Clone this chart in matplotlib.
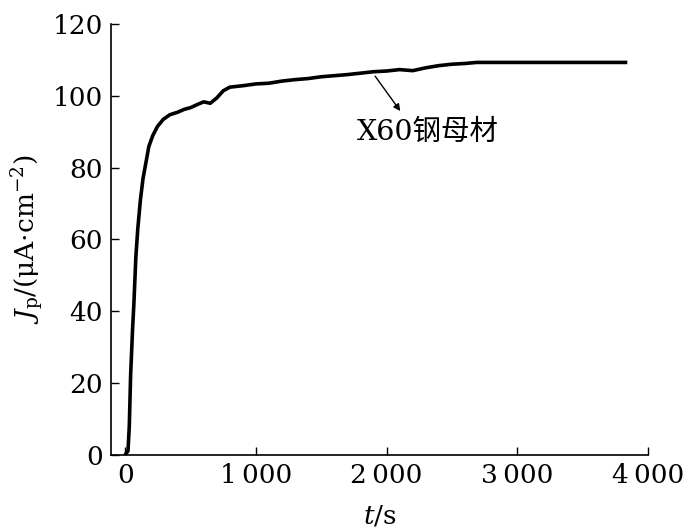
import matplotlib.pyplot as plt

plt.rcParams['font.family'] = ['DejaVu Serif', 'Noto Sans CJK SC']
plt.rcParams['mathtext.fontset'] = 'dejavuserif'

# time (s) and permeation current density (uA/cm^2)
t = [0, 20, 30, 40, 55, 65, 80, 95, 115, 135, 155, 180, 210, 245, 290, 340,
     400, 450, 500, 560, 600, 650, 700, 750, 800, 900, 1000, 1100, 1200, 1300,
     1400, 1500, 1600, 1700, 1800, 1900, 2000, 2100, 2200, 2300, 2400, 2500,
     2600, 2690, 3000, 3400, 3830]
jp = [0, 1, 8, 22, 35, 42, 55, 63, 71, 77, 81, 86, 89, 91.5, 93.5, 94.8,
      95.5, 96.3, 96.8, 97.8, 98.4, 98.0, 99.5, 101.5, 102.5, 102.9, 103.4, 103.6,
      104.2, 104.6, 104.9, 105.4, 105.7, 106.0, 106.4, 106.8, 107.0, 107.4, 107.1,
      107.9, 108.5, 108.9, 109.1, 109.4, 109.4, 109.4, 109.4]

xticks = [0, 1000, 2000, 3000, 4000]
xlabels = ['0', '1\u2009000', '2\u2009000', '3\u2009000', '4\u2009000']
yticks = [0, 20, 40, 60, 80, 100, 120]

fig = plt.figure(figsize=(6.92, 5.31), dpi=100)
ax = fig.add_axes([0.161, 0.144, 0.775, 0.810])
ax.plot(t, jp, color='black', lw=2.6)

ax.set_xlim(-107, 4000)
ax.set_ylim(0, 120)
ax.set_xticks(xticks)
ax.set_xticklabels(xlabels)
ax.set_yticks(yticks)
ax.tick_params(direction='in', length=6, width=1, labelsize=19, pad=6)
for s in ['top', 'right']:
    ax.spines[s].set_visible(False)
for s in ['left', 'bottom']:
    ax.spines[s].set_linewidth(1.2)

ax.set_xlabel('$t$/s', fontsize=19, labelpad=11)
ax.set_ylabel('$J_\\mathrm{p}$/(μA·cm$^{-2}$)', fontsize=19, labelpad=4)

ax.annotate('', xy=(2118, 95.2), xytext=(1900, 106.2),
            arrowprops=dict(arrowstyle='-|>', color='black', lw=1, mutation_scale=10))
ax.text(1775, 90, 'X60钢母材', fontsize=20.5, va='center', ha='left')

fig.savefig('out.png', dpi=100)
